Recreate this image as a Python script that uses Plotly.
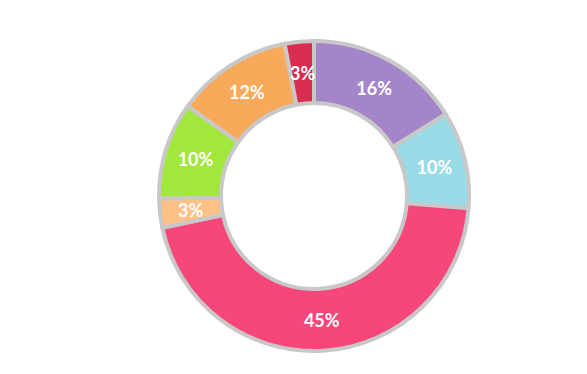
import math
import plotly.graph_objects as go

labels = ["A", "B", "C", "D", "E", "F", "G"]
values = [16, 10, 45, 3, 10, 12, 3]
colors = ["#a585c9", "#9adbe8", "#f7477a", "#ffc085", "#a2e83c", "#f9a95a", "#d92d4f"]

W, H = 587, 374
cx, cy, r = 306, 186, 155  # centre in figure px (x from left, y from bottom)
hole = 0.6
font = dict(family="Lato", size=18, color="white", weight="bold")

total = sum(values)
big = [v >= 5 for v in values]
texts = [f"{v}%" if b else "" for v, b in zip(values, big)]

fig = go.Figure(go.Pie(
    labels=labels,
    values=values,
    hole=hole,
    sort=False,
    direction="clockwise",
    rotation=0,
    marker=dict(colors=colors, line=dict(color="#c8c8c8", width=4)),
    text=texts,
    texttemplate="%{text}",
    textposition="inside",
    insidetextorientation="horizontal",
    textfont=font,
    domain=dict(x=[(cx - r) / W, (cx + r) / W],
                y=[(cy - r) / H, (cy + r) / H]),
    showlegend=False,
))

# small slices: label drawn unshrunk at mid-ring of the slice
cum = 0
rm = r * (1 + hole) / 2
for v, b in zip(values, big):
    mid = (cum + v / 2) / total * 2 * math.pi
    cum += v
    if b:
        continue
    x = (cx + rm * math.sin(mid)) / W
    y = (cy + rm * math.cos(mid)) / H
    fig.add_annotation(x=x, y=y, xref="paper", yref="paper", text=f"{v}%",
                       showarrow=False, font=font, xanchor="center", yanchor="middle")

fig.update_layout(
    width=W, height=H,
    margin=dict(l=0, r=0, t=0, b=0),
    paper_bgcolor="white",
    plot_bgcolor="white",
)
fig.write_html("out.html")
